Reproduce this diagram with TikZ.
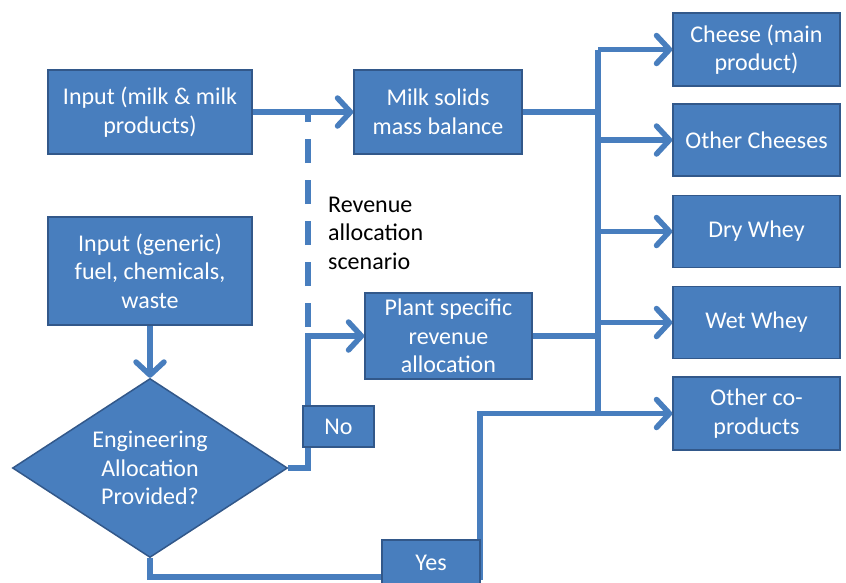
\documentclass[tikz,border=0pt]{standalone}
\usepackage{fontspec}
\setmainfont{Carlito}
\usetikzlibrary{shapes.geometric,arrows.meta}
\definecolor{boxblue}{RGB}{72,126,190}
\definecolor{boxedge}{RGB}{50,88,138}

\begin{document}
\begin{tikzpicture}[x=1pt,y=-1pt,
 box/.style={draw=boxedge,line width=1.5pt,fill=boxblue,text=white,align=center,inner sep=0pt,font=\fontsize{24}{28.5}\selectfont},
 flow/.style={boxblue,line width=5.5pt},
 flowarrow/.style={flow,-{Straight Barb[length=13pt,width=28pt,round]}},
 revdash/.style={boxblue,line width=6pt,dash pattern=on 24pt off 17pt}]
\useasboundingbox (0,0) rectangle (846,582);

\coordinate (bus) at (598,0);
\coordinate (nox) at (308,0);
\coordinate (yesturn) at (480,577);
\coordinate (dashtop) at (308,115);
\coordinate (dashbot) at (308,327);

\draw[revdash] (dashbot)--(dashtop);
\draw[flow] (bus|-50,50)--(bus|-413,413);

\node[box,minimum width=204pt,minimum height=84pt] (inmilk) at (150,112) {Input (milk \& milk\\products)};
\node[box,minimum width=168pt,minimum height=84pt] (solids) at (438,112) {Milk solids\\mass balance};
\node[box,minimum width=204pt,minimum height=108pt] (ingen) at (150,271) {Input (generic)\\fuel, chemicals,\\waste};
\node[box,shape=diamond,aspect=1.54,minimum width=275pt,minimum height=179pt] (eng) at (150,468) {Engineering\\Allocation\\Provided?};
\node[box,minimum width=167pt,minimum height=86pt] (plant) at (448.5,336) {Plant specific\\revenue\\allocation};

\node[box,minimum width=167pt,minimum height=73pt] (cheese) at (756.5,49.5) {Cheese (main\\product)};
\node[box,minimum width=167pt,minimum height=72pt] (othch) at (756.5,140) {Other Cheeses};
\node[box,minimum width=167pt,minimum height=72pt] (dry) at (756.5,231.5) {Dry Whey};
\node[box,minimum width=167pt,minimum height=72pt] (wet) at (756.5,322.5) {Wet Whey};
\node[box,minimum width=167pt,minimum height=73pt] (othco) at (756.5,413.5) {Other co-\\products};

\node[align=left,anchor=west,inner sep=0pt,font=\fontsize{24}{28.5}\selectfont] (revtext) at (328,233) {Revenue\\allocation\\scenario};

\draw[flowarrow] (inmilk.east)--(solids.west);
\draw[flowarrow] (ingen.south)--(eng.north);
\draw[flow] (solids.east)--(solids.east-|bus);
\draw[flow] (plant.east)--(plant.east-|bus);
\draw[flowarrow] (eng.east)--(eng.east-|nox)|-(plant.west);
\draw[flowarrow] (eng.south)|-(yesturn)|-(othco.west);

\draw[flowarrow] (bus|-cheese.west)--(cheese.west);
\draw[flowarrow] (bus|-othch.west)--(othch.west);
\draw[flowarrow] (bus|-dry.west)--(dry.west);
\draw[flowarrow] (bus|-wet.west)--(wet.west);

\node[box,minimum width=71pt,minimum height=41pt] (no) at (338.5,426.5) {No};
\node[box,minimum width=98pt,minimum height=46pt] (yes) at (431,563) {Yes};

\end{tikzpicture}
\end{document}
